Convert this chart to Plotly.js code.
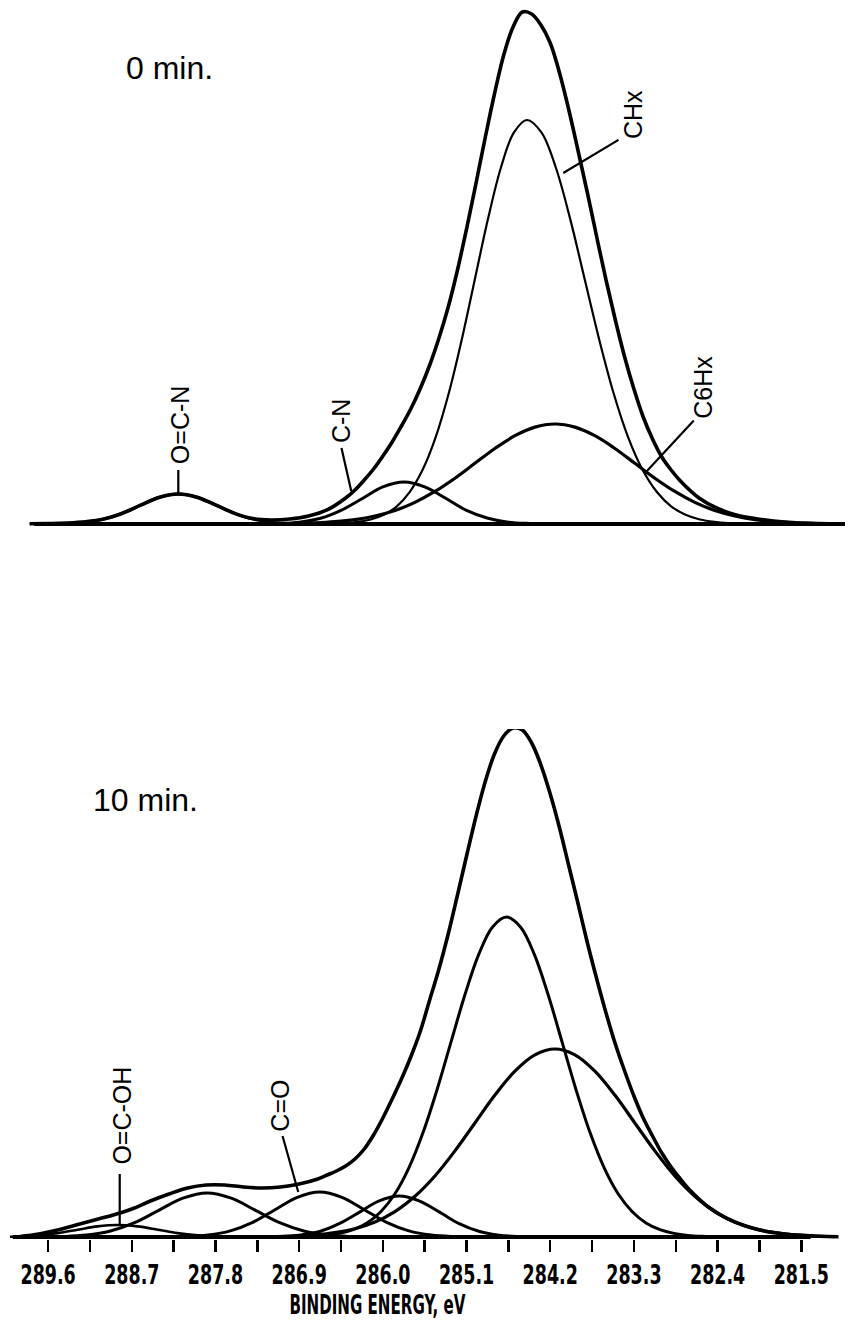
<!DOCTYPE html>
<html>
<head>
<meta charset="utf-8">
<script src="https://cdn.plot.ly/plotly-3.0.1.min.js"></script>
<style>html,body{margin:0;padding:0;background:#fff;}#chart{width:848px;height:1323px;}</style>
</head>
<body>
<div id="chart"></div>
<script>
// ---------- x axis ticks ----------
const tickValues = [289.6, 289.15, 288.7, 288.25, 287.8, 287.35, 286.9, 286.45, 286.0, 285.55, 285.1, 284.65, 284.2, 283.75, 283.3, 282.85, 282.4, 281.95, 281.5];
const tickLabels = ['289.6', '', '288.7', '', '287.8', '', '286.9', '', '286.0', '', '285.1', '', '284.2', '', '283.3', '', '282.4', '', '281.5'];
const xTitle = 'BINDING ENERGY, eV';

// ---------- top panel: 0 min ----------
const topTitle = '0 min.';
const topBaseE = [289.75, 281.0];
const topBaseI = [0, 0];

const topEnvE = [289.8, 289.6, 289.4, 289.2, 289.0, 288.8, 288.6, 288.4, 288.2, 288.0, 287.8, 287.6, 287.4, 287.2, 287.0, 286.8, 286.6, 286.4, 286.3, 286.2, 286.1, 286.0, 285.9, 285.8, 285.7, 285.6, 285.5, 285.4, 285.3, 285.2, 285.1, 285.0, 284.9, 284.8, 284.7, 284.6, 284.5, 284.4, 284.3, 284.2, 284.1, 284.0, 283.9, 283.8, 283.7, 283.6, 283.5, 283.4, 283.3, 283.2, 283.1, 283.0, 282.9, 282.8, 282.6, 282.4, 282.2, 282.0, 281.8, 281.6, 281.4, 281.2, 281.0];
const topEnvI = [0.2, 0.5, 1.0, 2.2, 5.0, 10.8, 19.1, 26.8, 30.0, 26.8, 19.1, 10.9, 5.4, 4.0, 5.0, 8.0, 14.0, 26.0, 34.0, 44.0, 55.0, 68.0, 82.0, 98.0, 115.0, 135.0, 158.0, 185.0, 216.0, 253.0, 295.0, 340.0, 386.0, 430.0, 469.0, 497.0, 512.0, 510.0, 499.0, 481.0, 451.0, 414.0, 373.0, 331.0, 287.0, 244.0, 204.0, 167.0, 135.0, 107.0, 85.0, 67.0, 54.0, 43.0, 26.0, 15.5, 9.0, 5.5, 3.0, 1.5, 0.7, 0.3, 0.1];

const topOCN_E = [289.67, 289.46, 289.25, 289.04, 288.83, 288.62, 288.41, 288.20, 287.99, 287.78, 287.57, 287.36, 287.15, 286.94, 286.73];
const topOCN_I = [0.1, 0.3, 1.3, 4.1, 9.7, 18.2, 26.5, 30, 26.5, 18.2, 9.7, 4.1, 1.3, 0.3, 0.1];

const topCN_E = [287.35, 287.12, 286.90, 286.67, 286.45, 286.22, 286.00, 285.77, 285.55, 285.32, 285.10, 284.87, 284.65, 284.42, 284.20];
const topCN_I = [0.1, 0.5, 1.8, 5.7, 13.6, 25.5, 37.1, 42, 37.1, 25.5, 13.6, 5.7, 1.8, 0.5, 0.1];

const topCHx_E = [286.69, 286.55, 286.41, 286.27, 286.13, 285.99, 285.85, 285.71, 285.57, 285.43, 285.29, 285.15, 285.01, 284.87, 284.73, 284.59, 284.45, 284.295, 284.14, 283.985, 283.83, 283.675, 283.52, 283.365, 283.21, 283.055, 282.90, 282.745, 282.59, 282.435, 282.28, 281.97];
const topCHx_I = [0.1, 0.4, 0.9, 2.1, 4.5, 9.2, 17.7, 32.2, 54.7, 87.4, 131.2, 185.0, 245.0, 304.9, 356.5, 391.6, 404, 391.6, 356.5, 304.9, 245.0, 185.0, 131.2, 87.4, 54.7, 32.2, 17.7, 9.2, 4.5, 2.1, 0.9, 0.1];

const topC6Hx_E = [287.59, 287.16, 286.945, 286.73, 286.515, 286.30, 286.085, 285.87, 285.655, 285.44, 285.225, 285.01, 284.795, 284.58, 284.365, 284.15, 283.935, 283.72, 283.505, 283.29, 283.075, 282.86, 282.645, 282.43, 282.215, 282.00, 281.785, 281.57, 281.355, 281.14];
const topC6Hx_I = [0.03, 0.2, 0.5, 1.1, 2.3, 4.4, 8.0, 13.5, 21.6, 32.5, 45.8, 60.7, 75.5, 88.3, 96.9, 100, 96.9, 88.3, 75.5, 60.7, 45.8, 32.5, 21.6, 13.5, 8.0, 4.4, 2.3, 1.1, 0.5, 0.2];

// ---------- bottom panel: 10 min ----------
const botTitle = '10 min.';
const botBaseE = [289.98, 281.40];
const botBaseI = [0, 0];

const botEnvE = [289.9, 289.7, 289.5, 289.3, 289.1, 288.9, 288.7, 288.5, 288.3, 288.1, 287.9, 287.7, 287.5, 287.3, 287.1, 286.9, 286.7, 286.6, 286.5, 286.4, 286.3, 286.2, 286.1, 286.0, 285.9, 285.8, 285.7, 285.6, 285.5, 285.4, 285.3, 285.2, 285.1, 285.0, 284.9, 284.8, 284.7, 284.6, 284.5, 284.4, 284.3, 284.2, 284.1, 284.0, 283.9, 283.8, 283.7, 283.6, 283.5, 283.4, 283.3, 283.2, 283.1, 283.0, 282.9, 282.8, 282.7, 282.6, 282.5, 282.3, 282.1, 281.9, 281.7, 281.5, 281.3, 281.1];
const botEnvI = [0.5, 3, 7, 12, 17, 22, 28, 36, 43, 49, 52, 52, 50, 49, 50, 53, 58, 62, 66, 71, 78, 88, 102, 119, 138, 158, 180, 205, 236, 267, 302, 341, 381, 420, 455, 483, 501, 509, 507, 494, 472, 443, 409, 371, 333, 294, 258, 224, 193, 166, 141, 119, 101, 84, 70, 58, 47, 38, 30, 18.6, 11, 6.1, 3.3, 1.6, 0.7, 0.3];

const botOCOH_E = [290.14, 289.93, 289.71, 289.50, 289.28, 289.07, 288.85, 288.64, 288.42, 288.21, 287.99, 287.78, 287.56];
const botOCOH_I = [0.1, 0.5, 1.6, 3.9, 7.3, 10.6, 12, 10.6, 7.3, 3.9, 1.6, 0.5, 0.1];

const bot2879_E = [289.71, 289.45, 289.19, 288.93, 288.67, 288.41, 288.15, 287.89, 287.63, 287.37, 287.11, 286.85, 286.59, 286.33, 286.07];
const bot2879_I = [0.1, 0.5, 1.9, 6.0, 14.3, 26.7, 38.8, 44, 38.8, 26.7, 14.3, 6.0, 1.9, 0.5, 0.1];

const botCO_E = [288.36, 288.12, 287.88, 287.64, 287.40, 287.16, 286.92, 286.68, 286.44, 286.20, 285.96, 285.72, 285.48, 285.24, 285.00];
const botCO_I = [0.1, 0.5, 2.0, 6.1, 14.6, 27.3, 39.7, 45, 39.7, 27.3, 14.6, 6.1, 2.0, 0.5, 0.1];

const botCN_E = [287.33, 287.11, 286.90, 286.68, 286.47, 286.25, 286.04, 285.82, 285.61, 285.39, 285.18, 284.96, 284.75, 284.53, 284.32];
const botCN_I = [0.1, 0.5, 1.8, 5.5, 13.3, 24.9, 36.2, 41, 36.2, 24.9, 13.3, 5.5, 1.8, 0.5, 0.1];

const botCHx_E = [287.07, 286.77, 286.62, 286.47, 286.32, 286.17, 286.02, 285.87, 285.72, 285.57, 285.42, 285.27, 285.12, 284.97, 284.82, 284.67, 284.52, 284.37, 284.22, 284.07, 283.92, 283.77, 283.62, 283.47, 283.32, 283.17, 283.02, 282.87, 282.72, 282.57, 282.27];
const botCHx_I = [0.1, 0.7, 1.6, 3.6, 7.3, 14.0, 25.5, 43.3, 69.2, 103.9, 146.5, 194.1, 241.5, 282.4, 310.1, 320, 310.1, 282.4, 241.5, 194.1, 146.5, 103.9, 69.2, 43.3, 25.5, 14.0, 7.3, 3.6, 1.6, 0.7, 0.1];

const botC6Hx_E = [287.59, 287.16, 286.945, 286.73, 286.515, 286.30, 286.085, 285.87, 285.655, 285.44, 285.225, 285.01, 284.795, 284.58, 284.365, 284.15, 283.935, 283.72, 283.505, 283.29, 283.075, 282.86, 282.645, 282.43, 282.215, 282.00, 281.785, 281.57, 281.355, 281.14];
const botC6Hx_I = [0.1, 0.4, 1.0, 2.1, 4.3, 8.3, 15.0, 25.4, 40.7, 61.0, 86.1, 114.0, 141.9, 165.9, 182.2, 188, 182.2, 165.9, 141.9, 114.0, 86.1, 61.0, 40.7, 25.4, 15.0, 8.3, 4.3, 2.1, 1.0, 0.4];

// ---------- peak labels ----------
const topLabels = ['O=C-N', 'C-N', 'CHx', 'C6Hx'];
const botLabels = ['O=C-OH', 'C=O'];

// ---------- build ----------
const INK = '#000';
function line(x, y, w, ax) {
  return {x: x, y: y, type: 'scatter', mode: 'lines', xaxis: ax[0], yaxis: ax[1],
          line: {color: INK, width: w, shape: 'spline', smoothing: 1}, hoverinfo: 'skip', showlegend: false};
}
const T = ['x', 'y'], B = ['x2', 'y2'];
const data = [
  line(topBaseE, topBaseI, 4, T),
  line(topOCN_E, topOCN_I, 3, T),
  line(topCN_E, topCN_I, 3, T),
  line(topC6Hx_E, topC6Hx_I, 3.2, T),
  line(topCHx_E, topCHx_I, 2.2, T),
  line(topEnvE, topEnvI, 3.6, T),
  line(botBaseE, botBaseI, 4, B),
  line(botOCOH_E, botOCOH_I, 2.6, B),
  line(bot2879_E, bot2879_I, 3, B),
  line(botCO_E, botCO_I, 3, B),
  line(botCN_E, botCN_I, 3, B),
  line(botCHx_E, botCHx_I, 3, B),
  line(botC6Hx_E, botC6Hx_I, 3.2, B),
  line(botEnvE, botEnvI, 3.6, B)
];

const labelFont = {family: 'Liberation Sans, Arial, sans-serif', size: 25, color: INK};
const panelFont = {family: 'Liberation Sans, Arial, sans-serif', size: 32, color: INK};
const axFamily = 'Liberation Sans Narrow, DejaVu Sans Condensed, DejaVu Sans, sans-serif';
const axFont = {family: axFamily, size: 27, color: INK, weight: 'bold'};

function lbl(text, x, y, xr, yr) {
  return {text: text, x: x, y: y, xref: xr, yref: yr, showarrow: false, textangle: -90,
          xanchor: 'center', yanchor: 'middle', font: labelFont};
}
function leader(x, y, ax, ay, xr, yr) {
  return {text: ' ', x: x, y: y, ax: ax, ay: ay, xref: xr, yref: yr, axref: xr, ayref: yr,
          showarrow: true, arrowhead: 0, arrowwidth: 2.2, arrowcolor: INK, standoff: 0, startstandoff: 0,
          font: {size: 1, color: 'rgba(0,0,0,0)'}};
}

const annotations = [
  {text: topTitle, x: 288.30, y: 456, xref: 'x', yref: 'y', showarrow: false, xanchor: 'center', yanchor: 'middle', font: panelFont},
  {text: botTitle, x: 288.55, y: 437, xref: 'x2', yref: 'y2', showarrow: false, xanchor: 'center', yanchor: 'middle', font: panelFont},
  lbl(topLabels[0], 288.18, 99, 'x', 'y'),
  leader(288.20, 31, 288.20, 56, 'x', 'y'),
  lbl(topLabels[1], 286.45, 103, 'x', 'y'),
  leader(286.34, 33, 286.45, 78, 'x', 'y'),
  lbl(topLabels[2], 283.31, 409, 'x', 'y'),
  leader(284.06, 351, 283.45, 385, 'x', 'y'),
  lbl(topLabels[3], 282.56, 137, 'x', 'y'),
  leader(283.18, 51, 282.64, 105, 'x', 'y'),
  lbl(botLabels[0], 288.81, 121, 'x2', 'y2'),
  leader(288.83, 13, 288.83, 65, 'x2', 'y2'),
  lbl(botLabels[1], 287.11, 131, 'x2', 'y2'),
  leader(286.91, 45, 287.085, 103, 'x2', 'y2'),
  {text: xTitle, x: 0.4407, y: -0.0533, xref: 'paper', yref: 'paper', showarrow: false,
   xanchor: 'center', yanchor: 'middle', font: {family: axFamily, size: 26, color: INK, weight: 'bold'}}
];

const xRange = [290.01, 281.03];
const layout = {
  width: 848, height: 1323,
  margin: {l: 10, r: 3, t: 0, b: 84, pad: 0},
  paper_bgcolor: '#fff', plot_bgcolor: '#fff',
  showlegend: false,
  xaxis: {domain: [0, 1], range: xRange, anchor: 'y', visible: false},
  yaxis: {domain: [0.56094, 0.99677], range: [-20, 520], anchor: 'x', visible: false},
  xaxis2: {domain: [0, 1], range: xRange, anchor: 'y2', tickmode: 'array', tickvals: tickValues, ticktext: tickLabels,
           ticks: 'outside', ticklen: 12, tickwidth: 2.5, tickcolor: INK, showline: false, showgrid: false, zeroline: false,
           tickfont: axFont, automargin: false},
  yaxis2: {domain: [0, 0.41162], range: [-2, 508], anchor: 'x2', visible: false},
  annotations: annotations
};

// narrow the bold axis lettering horizontally (the original uses a condensed plotter face)
function squeeze(nodes, s) {
  nodes.forEach(function (el) {
    const bb = el.getBBox();
    const cx = bb.x + bb.width / 2;
    const t = el.getAttribute('transform') || '';
    el.setAttribute('transform', t + ' translate(' + cx + ',0) scale(' + s + ',1) translate(' + (-cx) + ',0)');
  });
}

Plotly.newPlot('chart', data, layout, {staticPlot: true, displayModeBar: false}).then(function (gd) {
  squeeze(Array.from(gd.querySelectorAll('.xaxislayer-above text')), 0.72);
  squeeze(Array.from(gd.querySelectorAll('text.annotation-text')).filter(function (el) { return el.textContent === xTitle; }), 0.645);
});
</script>
</body>
</html>
